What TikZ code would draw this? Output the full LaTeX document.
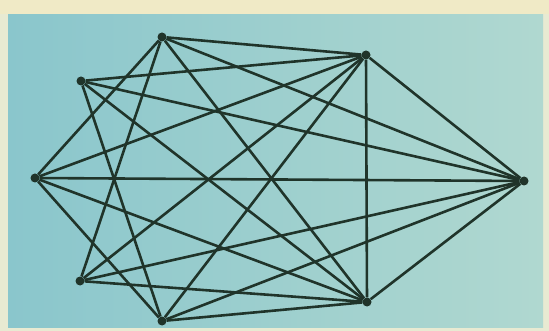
\documentclass[tikz,border=0pt]{standalone}
\usetikzlibrary{positioning}
\definecolor{paper}{RGB}{232,234,210}
\definecolor{paperTop}{RGB}{240,234,198}
\definecolor{blueL}{RGB}{138,198,204}
\definecolor{blueR}{RGB}{176,216,208}
\definecolor{ink}{RGB}{32,52,42}

\begin{document}
\begin{tikzpicture}[
  x=1pt, y=-1pt,
  vertex/.style={circle, fill=ink, inner sep=0pt, minimum size=9pt},
  edge/.style={ink, line width=2.6pt},
]
% background
\fill[paper] (0,0) rectangle (549,331);
\fill[paperTop] (0,0) rectangle (549,14);
\shade[left color=blueL, right color=blueR] (8,15) rectangle (543,327);
\useasboundingbox (0,0) rectangle (549,331);

\node[vertex] (a) at (162,37) {};
\node[vertex] (b) at (81,81) {};
\node[vertex] (c) at (35,178) {};
\node[vertex] (d) at (80,281) {};
\node[vertex] (e) at (162,321) {};
\node[vertex] (f) at (366,55) {};
\node[vertex] (g) at (367,302) {};
\node[vertex] (h) at (524,181) {};

\draw[edge] (a) -- (c);
\draw[edge] (a) -- (d);
\draw[edge] (a) -- (f);
\draw[edge] (a) -- (g);
\draw[edge] (a) -- (h);
\draw[edge] (b) -- (e);
\draw[edge] (b) -- (f);
\draw[edge] (b) -- (g);
\draw[edge] (b) -- (h);
\draw[edge] (c) -- (e);
\draw[edge] (c) -- (f);
\draw[edge] (c) -- (g);
\draw[edge] (c) -- (h);
\draw[edge] (d) -- (f);
\draw[edge] (d) -- (g);
\draw[edge] (d) -- (h);
\draw[edge] (e) -- (f);
\draw[edge] (e) -- (g);
\draw[edge] (e) -- (h);
\draw[edge] (f) -- (g);
\draw[edge] (f) -- (h);
\draw[edge] (g) -- (h);

\end{tikzpicture}
\end{document}
